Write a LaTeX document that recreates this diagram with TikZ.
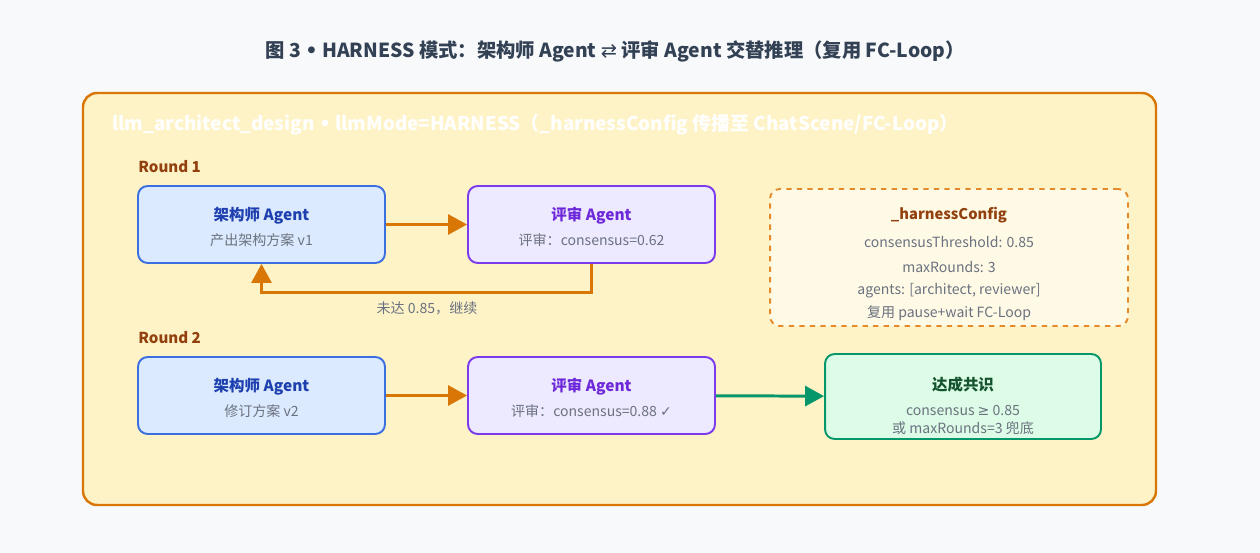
\documentclass[tikz,border=0pt]{standalone}
\usepackage{fontspec}
\setmainfont{Noto Sans CJK SC}
\newfontfamily\symfont{DejaVu Sans}
\usetikzlibrary{arrows.meta}

\definecolor{pagebg}{HTML}{F8F9FB}
\definecolor{titletxt}{HTML}{334155}
\definecolor{panelfill}{HTML}{FEF3C7}
\definecolor{panelline}{HTML}{D97706}
\definecolor{roundtxt}{HTML}{92400E}
\definecolor{archfill}{HTML}{DBEAFE}
\definecolor{archline}{HTML}{3B6FE0}
\definecolor{archtxt}{HTML}{1E40AF}
\definecolor{revfill}{HTML}{EDE9FE}
\definecolor{revline}{HTML}{7C3AED}
\definecolor{revtxt}{HTML}{6D28D9}
\definecolor{subtxt}{HTML}{6B7280}
\definecolor{cfgfill}{HTML}{FFFAE6}
\definecolor{cfgline}{HTML}{E58A2B}
\definecolor{donefill}{HTML}{DCFCE7}
\definecolor{doneline}{HTML}{059669}
\definecolor{donetxt}{HTML}{14532D}

\newcommand{\sepdot}{{\symfont •}}

\begin{document}
\begin{tikzpicture}[x=0.02cm,y=-0.02cm]

\tikzset{stage/.style = {rounded corners=5.5pt, line width=1.1pt, minimum width=4.94cm, minimum height=1.54cm, inner sep=0pt}}
\tikzset{arch/.style = {stage, draw=archline, fill=archfill}}
\tikzset{rev/.style = {stage, draw=revline, fill=revfill}}
\tikzset{ttl/.style = {font=\fontsize{8.8}{10}\selectfont\bfseries, inner sep=0pt}}
\tikzset{subt/.style = {font=\fontsize{8}{10}\selectfont, text=subtxt, inner sep=0pt}}
\tikzset{edge/.style = {line width=1.7pt, draw=panelline, -{Triangle[length=0.38cm,width=0.4cm]}}}
\tikzset{roundlbl/.style = {anchor=west, inner sep=0pt, font=\fontsize{8.6}{10}\selectfont\bfseries, text=roundtxt}}

% background and panel
\fill[pagebg] (0,0) rectangle (1260,553);
\useasboundingbox (0,0) rectangle (1260,553);
\node[font=\fontsize{11}{13}\selectfont\bfseries, text=titletxt] (title) at (615,51)
  {图 3 \sepdot{} HARNESS 模式：架构师 Agent {\symfont\mdseries ⇄} 评审 Agent 交替推理（复用 FC-Loop）};
\draw[panelline, fill=panelfill, line width=1.4pt, rounded corners=8pt] (83,93) rectangle (1156,505);
\node[anchor=west, inner sep=0pt, font=\fontsize{10.75}{12}\selectfont\bfseries, text=white] (head) at (112,125)
  {llm\_architect\_design \sepdot{} llmMode=HARNESS（\_harnessConfig 传播至 ChatScene/FC-Loop）};

% round 1
\node[roundlbl] (r1) at (138,167) {Round 1};
\node[arch] (arch1) at (261.5,224.5) {};
\node[ttl, text=archtxt] (arch1t) at (261.5,215.5) {架构师 Agent};
\node[subt] (arch1s) at (261.5,240.5) {产出架构方案 v1};
\node[rev] (rev1) at (591.5,224.5) {};
\node[ttl, text=revtxt] (rev1t) at (591.5,215.5) {评审 Agent};
\node[subt] (rev1s) at (591.5,240.5) {评审：consensus=0.62};
\draw[edge] (arch1) -- (rev1);
\draw[edge] (rev1.south) -- ++(0,29) -| (arch1.south);
\node[subt] (fb) at (427,308) {未达 0.85，继续};

% config
\node[draw=cfgline, fill=cfgfill, dashed, line width=1.1pt, rounded corners=5.5pt,
  minimum width=7.16cm, minimum height=2.74cm] (cfg) at (949,257.5) {};
\node[ttl, font=\fontsize{8.4}{10}\selectfont\bfseries, text=roundtxt] (cfg0) at (949,215) {\_harnessConfig};
\node[subt] (cfg1) at (949,242) {consensusThreshold: 0.85};
\node[subt] (cfg2) at (949,267) {maxRounds: 3};
\node[subt] (cfg3) at (949,291) {agents: [architect, reviewer]};
\node[subt] (cfg4) at (949,313) {复用 pause+wait FC-Loop};

% round 2
\node[roundlbl] (r2) at (138,338) {Round 2};
\node[arch] (arch2) at (261.5,395.5) {};
\node[ttl, text=archtxt] (arch2t) at (261.5,386.5) {架构师 Agent};
\node[subt] (arch2s) at (261.5,411) {修订方案 v2};
\node[rev] (rev2) at (591.5,395.5) {};
\node[ttl, text=revtxt] (rev2t) at (591.5,386.5) {评审 Agent};
\node[subt] (rev2s) at (591.5,411) {评审：consensus=0.88 {\symfont ✓}};
\node[stage, draw=doneline, fill=donefill, minimum width=5.52cm, minimum height=1.7cm] (done) at (963,396.5) {};
\node[ttl, text=donetxt] (donet) at (963,385) {达成共识};
\node[subt] (dones1) at (963,410) {consensus {\symfont ≥} 0.85};
\node[subt] (dones2) at (963,428) {或 maxRounds=3 兜底};
\draw[edge] (arch2) -- (rev2);
\draw[edge, draw=doneline] (rev2) -- (done);

\end{tikzpicture}
\end{document}
